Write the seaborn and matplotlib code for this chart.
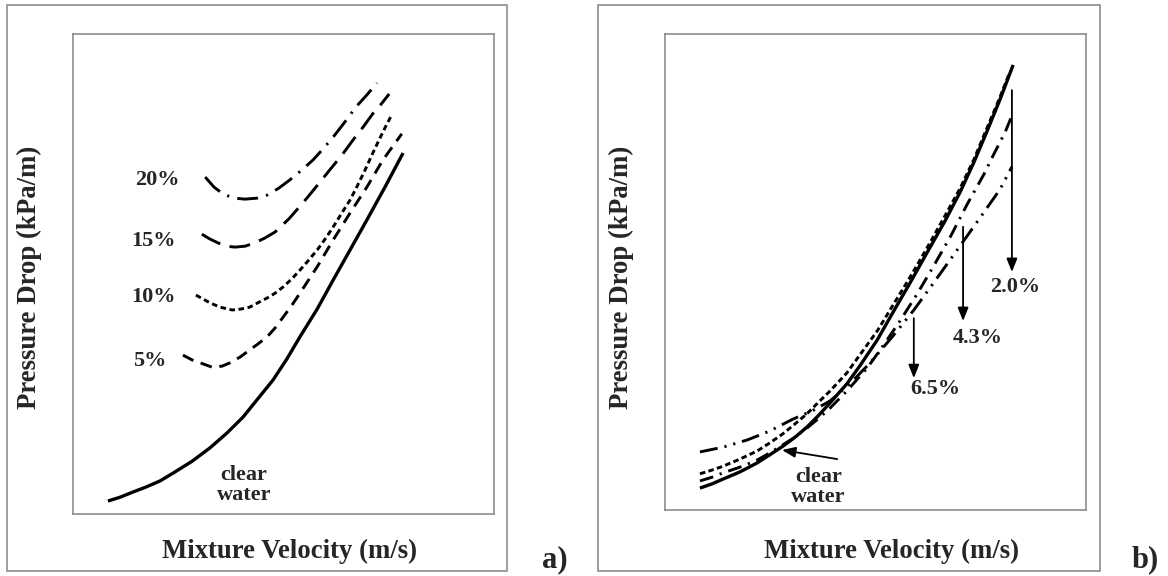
import numpy as np
import pandas as pd
import matplotlib
matplotlib.use("Agg")
import matplotlib.pyplot as plt
from matplotlib.patches import Rectangle
import seaborn as sns

sns.set_style("white")
plt.rcParams['font.family'] = ['Liberation Serif', 'DejaVu Serif']
plt.rcParams['font.weight'] = 'bold'
plt.rcParams['lines.scale_dashes'] = False

# ---------------- Panel a data (arbitrary units, 0-100) ----------------
a_water_x = [8.3, 11.2, 14.3, 17.3, 20.7, 24.2, 28.3, 32.5, 36.6, 40.4, 43.9, 47.5, 50.8,
             53.9, 58.0, 61.8, 65.8, 69.8, 74.1, 78.4]
a_water_y = [2.7, 3.5, 4.6, 5.6, 6.9, 8.75, 11.0, 13.75, 16.9, 20.2, 24.0, 27.9, 32.3,
             36.9, 42.7, 48.75, 55.0, 61.25, 68.1, 75.2]

a_5_x = [26.1, 28.3, 30.2, 33.0, 35.4, 37.3, 39.7, 42.0, 43.9, 46.1, 48.0, 49.9, 52.0,
         53.9, 58.0, 61.8, 65.8, 69.8, 73.6, 78.1]
a_5_y = [33.1, 32.1, 31.5, 30.6, 30.8, 31.5, 32.7, 34.2, 35.4, 36.9, 38.75, 41.0, 43.5,
         46.0, 51.5, 57.1, 62.7, 68.1, 73.75, 79.2]

a_10_x = [29.2, 30.9, 32.5, 34.9, 37.8, 39.9, 42.0, 43.9, 46.1, 48.0, 49.9, 52.0, 53.9,
          55.8, 58.0, 59.9, 61.8, 63.7, 65.8, 67.5, 69.4, 71.0, 72.9, 74.3, 75.8]
a_10_y = [45.6, 44.8, 44.0, 43.1, 42.5, 42.7, 43.1, 44.0, 45.0, 46.0, 47.3, 49.0, 50.8,
          52.7, 55.0, 57.3, 59.8, 62.5, 65.4, 68.3, 71.7, 74.8, 78.3, 80.8, 83.3]

a_15_x = [30.6, 32.5, 34.4, 36.3, 38.5, 40.9, 43.2, 45.6, 48.0, 51.3, 54.6, 57.7, 61.0,
          63.9, 66.5, 68.9, 71.3, 73.2, 75.1]
a_15_y = [58.3, 57.3, 56.5, 55.8, 55.6, 55.8, 56.5, 57.5, 58.75, 61.5, 64.8, 68.1, 71.7,
          74.8, 77.9, 80.6, 83.5, 85.4, 87.5]

a_20_x = [31.4, 33.5, 35.6, 38.2, 40.9, 43.7, 46.3, 48.9, 51.5, 54.4, 57.0, 59.6, 62.0,
          64.6, 67.2, 69.8, 72.2]
a_20_y = [70.2, 68.1, 66.7, 65.8, 65.6, 65.8, 66.5, 67.9, 69.6, 71.7, 73.75, 76.25, 78.75,
          81.7, 84.8, 87.3, 89.8]

a_labels = ["20%", "15%", "10%", "5%"]

# ---------------- Panel b data ----------------
b_water_x = [8.3, 11.2, 13.8, 17.8, 21.9, 24.9, 28.0, 30.9, 33.7, 36.3, 39.2, 43.2, 46.3,
             50.4, 54.2, 58.2, 62.2, 66.5, 70.1, 73.4, 76.5, 79.6, 82.7]
b_water_y = [4.6, 5.5, 6.5, 8.0, 9.9, 11.6, 13.4, 15.3, 17.4, 19.7, 22.5, 26.5, 30.3,
             35.7, 41.6, 47.7, 54.0, 60.7, 66.8, 73.1, 79.6, 86.3, 93.5]

b_20_x = [8.3, 11.2, 13.8, 17.8, 21.9, 24.9, 28.0, 30.9, 33.7, 36.3, 39.2, 43.2, 46.3,
          50.4, 54.2, 58.2, 62.2, 66.5, 70.1, 73.4, 76.5, 79.6, 81.9]
b_20_y = [7.6, 8.4, 9.2, 10.7, 12.4, 14.1, 16.0, 18.1, 20.2, 22.5, 25.0, 28.8, 32.6,
          37.6, 43.1, 48.9, 55.0, 61.8, 67.6, 73.7, 80.3, 86.8, 92.0]

b_43_x = [8.3, 11.2, 13.8, 17.8, 21.9, 24.9, 28.0, 30.9, 33.7, 36.3, 39.2, 43.2, 48.0,
          51.8, 55.8, 59.9, 63.7, 67.9, 71.7, 75.8, 77.9, 80.8, 82.2]
b_43_y = [6.1, 6.9, 7.8, 9.0, 10.5, 12.0, 13.7, 15.3, 17.2, 19.1, 21.4, 25.0, 29.8,
          34.5, 39.7, 45.4, 51.1, 57.6, 64.1, 70.6, 74.4, 79.4, 82.4]

b_65_x = [8.3, 13.8, 19.5, 24.9, 30.4, 34.9, 39.2, 43.9, 48.7, 53.9, 59.1, 64.6, 70.1,
          75.8, 79.6, 82.4]
b_65_y = [12.2, 13.2, 14.7, 16.6, 19.1, 20.8, 22.9, 26.5, 30.9, 36.3, 42.0, 48.7, 55.5,
          62.6, 67.4, 72.1]

b_labels = ["2.0%", "4.3%", "6.5%"]

# ---------------- figure ----------------
fig = plt.figure(figsize=(11.68, 5.76), dpi=100)
frame_col = "#8c8c8c"

# outer boxes
for x0, w in [(7 / 1168, 500 / 1168), (598 / 1168, 502 / 1168)]:
    fig.patches.append(Rectangle((x0, 5 / 576), w, 566 / 576, transform=fig.transFigure,
                                 fill=False, edgecolor=frame_col, lw=1.2))

axA = fig.add_axes([73 / 1168, 1 - 514 / 576, 421 / 1168, 480 / 576])
axB = fig.add_axes([665 / 1168, 1 - 510 / 576, 421 / 1168, 476 / 576])


def style_axes(ax):
    ax.set_xlim(0, 100)
    ax.set_ylim(0, 100)
    ax.set_xticks([])
    ax.set_yticks([])
    for s in ax.spines.values():
        s.set_color(frame_col)
        s.set_linewidth(1.2)
        s.set_visible(True)


def draw(ax, x, y, dashes=None, lw=2.0):
    sns.lineplot(x=x, y=y, ax=ax, color="black", lw=lw, sort=False, estimator=None)
    line = ax.lines[-1]
    line.set_solid_capstyle('butt')
    line.set_solid_joinstyle('round')
    if dashes is not None:
        line.set_dashes(dashes)
        line.set_dash_capstyle('butt')


# panel a
draw(axA, a_water_x, a_water_y, None, 2.4)
draw(axA, a_5_x, a_5_y, (8.5, 5.5), 2.1)
draw(axA, a_10_x, a_10_y, (4.0, 2.6), 2.1)
draw(axA, a_15_x, a_15_y, (15, 7), 2.1)
draw(axA, a_20_x, a_20_y, (15, 6, 1.6, 6), 2.1)
style_axes(axA)

lab_fs = 16
for lab, (tx, ty) in zip(a_labels, [(20.0, 69.6), (19.2, 56.9), (19.2, 45.2), (18.3, 31.9)]):
    axA.text(tx, ty, lab, ha="center", va="center", fontsize=lab_fs, fontweight="bold")
axA.text(40.6, 6.1, "clear\nwater", ha="center", va="center", fontsize=lab_fs,
         fontweight="bold", linespacing=1.0)

# panel b
draw(axB, b_water_x, b_water_y, None, 2.4)
draw(axB, b_20_x, b_20_y, (4.0, 2.4), 2.1)
draw(axB, b_43_x, b_43_y, (10, 5, 1.6, 5), 2.1)
draw(axB, b_65_x, b_65_y, (13, 5, 1.6, 5, 1.6, 5), 2.1)
style_axes(axB)

arrow_kw = dict(arrowstyle="-|>,head_length=0.8,head_width=0.32", color="black", lw=1.3,
                shrinkA=0, shrinkB=0)
for lab, (ax_x, y0, y1), (tx, ty) in zip(
        b_labels,
        [(82.4, 88.2, 50.0), (70.8, 59.5, 39.7), (59.1, 40.3, 27.7)],
        [(83.1, 46.8), (74.3, 36.1), (64.1, 25.4)]):
    axB.annotate("", xy=(ax_x, y1), xytext=(ax_x, y0), arrowprops=arrow_kw)
    axB.text(tx, ty, lab, ha="center", va="center", fontsize=lab_fs, fontweight="bold")

axB.annotate("", xy=(27.8, 12.6), xytext=(40.9, 10.7), arrowprops=arrow_kw)
axB.text(36.4, 4.8, "clear\nwater", ha="center", va="center", fontsize=lab_fs,
         fontweight="bold", linespacing=1.0)

# axis labels
ax_fs = 19.3
for ax, (xl_x, xl_y), (yl_x, yl_y) in [(axA, (0.515, -0.079), (-0.1045, 0.494)),
                                       (axB, (0.539, -0.088), (-0.1045, 0.489))]:
    ax.set_xlabel("Mixture Velocity (m/s)", fontsize=ax_fs, fontweight="bold", va="center")
    ax.set_ylabel("Pressure Drop (kPa/m)", fontsize=ax_fs, fontweight="bold", va="center")
    ax.xaxis.set_label_coords(xl_x, xl_y)
    ax.yaxis.set_label_coords(yl_x, yl_y)

fig.text(555 / 1168, 1 - 560 / 576, "a)", ha="center", va="center", fontsize=22, fontweight="bold")
fig.text(1145 / 1168, 1 - 560 / 576, "b)", ha="center", va="center", fontsize=22, fontweight="bold")

fig.savefig("out.png", dpi=100)
